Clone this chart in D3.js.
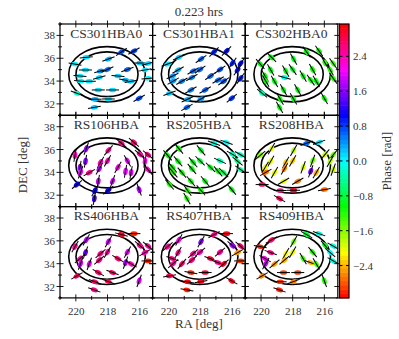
<!DOCTYPE html>
<html><head><meta charset="utf-8">
<script src="https://cdn.jsdelivr.net/npm/d3@7"></script>
<style>body{margin:0;background:#fff}svg{display:block}</style>
</head><body>
<script>
const chartTitle = "0.223 hrs";
const stations = ["CS301HBA0","CS301HBA1","CS302HBA0","RS106HBA","RS205HBA","RS208HBA","RS406HBA","RS407HBA","RS409HBA"];
const ra  = [217.12,216.33,219.34,217.94,220.05,215.95,215.44,219.39,218.44,218.0,216.74,215.63,219.74,219.70,219.15,218.52,217.34,216.86,216.51,215.44,218.58,217.68,219.93,218.79,217.95,216.0,218.83];
const dec = [36.55,36.63,36.08,35.93,35.49,35.58,35.54,34.97,34.88,35.01,35.01,34.97,34.44,34.0,33.98,34.31,34.44,34.09,33.98,34.24,33.22,33.22,32.93,32.41,32.43,32.49,31.70];

const phaseCS301HBA0 = [0.7,0.75,0.1,0.3,0.05,0.2,0.15,0.1,0.4,0.6,0.6,0.1,0.05,0.0,0.1,0.15,0.15,0.3,0.2,0.05,0.1,0.1,-0.2,0.3,0.1,0.7,0.2];
const phaseCS301HBA1 = [0.9,1.0,0.2,0.6,0.1,0.9,1.0,0.3,0.6,0.6,0.7,1.0,0.4,0.4,0.5,0.5,0.6,0.6,0.7,0.9,0.5,0.6,0.2,0.3,0.4,0.8,0.6];
const phaseCS302HBA0 = [-1.0,-1.1,-1.0,-0.9,-1.0,-1.2,-1.3,-1.0,-1.0,-0.9,-1.1,-1.2,-1.0,-1.1,-1.0,-0.1,-1.0,-1.1,-1.0,-1.2,-1.0,-1.0,-0.3,-1.1,-1.0,-1.1,-1.0];
const phaseRS106HBA  = [2.6,2.7,1.7,2.5,2.4,2.5,2.6,1.6,2.4,2.4,2.0,2.2,1.7,2.0,2.6,1.8,2.2,2.0,2.0,2.3,1.9,1.9,1.1,1.1,1.1,1.8,1.3];
const phaseRS205HBA  = [-0.1,0.0,-1.1,-0.9,-1.1,-0.3,-0.2,-1.0,-1.0,-0.8,-0.3,-0.5,-1.1,-1.2,-1.1,-1.0,-0.9,-1.0,-0.7,-0.4,-1.1,-1.0,-1.2,-1.2,-1.1,-1.0,-1.2];
const phaseRS208HBA  = [0.6,0.1,-2.0,-1.8,-1.6,-1.9,-1.5,-2.0,-2.3,-2.3,-1.5,-1.8,-2.0,-2.7,-2.0,-2.6,-1.9,1.5,-2.4,-1.9,-2.0,-2.6,2.8,2.6,3.0,-2.7,2.8];
const phaseRS406HBA  = [3.0,-3.0,1.8,1.9,2.5,2.6,2.5,1.5,2.6,2.5,2.0,2.4,2.4,1.9,2.0,2.6,2.7,1.8,2.4,-3.0,2.7,2.7,2.8,2.7,2.8,2.0,2.6];
const phaseRS407HBA  = [2.6,3.05,2.2,1.6,2.5,1.7,2.7,2.6,2.5,2.4,2.5,-2.5,2.6,2.5,2.7,2.6,2.9,2.6,3.0,-2.9,-3.0,2.9,2.8,3.1,3.0,3.0,-3.0];
const phaseRS409HBA  = [-0.8,-0.1,2.7,-1.5,-3.0,-0.9,-0.1,2.6,-2.1,-2.0,-1.2,0.0,2.2,1.8,-2.5,-2.4,-1.3,-2.4,-1.3,-0.1,-2.9,-2.9,-2.6,-2.9,-2.6,-1.2,-3.0];

const angleCS301HBA0 = [35,30,5,20,-10,0,15,0,15,25,20,10,-5,-5,0,15,-5,-10,10,5,0,0,-20,0,0,30,10];
const angleCS301HBA1 = [45,45,25,35,20,55,55,30,30,35,35,55,25,30,30,30,35,30,35,55,30,30,20,25,30,40,30];
const angleCS302HBA0 = [-55,-55,-45,-60,-50,-60,-55,-60,-60,-55,-60,-60,-60,-60,-60,-15,-60,-55,-60,-55,-60,-60,-40,-60,-60,-60,-60];
const angleRS106HBA  = [-40,-40,70,50,80,-40,-40,80,60,60,-60,80,80,70,30,60,60,80,80,-50,80,70,40,60,40,-70,80];
const angleRS205HBA  = [-20,-20,-50,-50,-50,-30,-30,-50,-50,-45,-25,-40,-50,-50,-50,-50,-45,-50,-45,-35,-50,-50,-50,-55,-50,-50,-60];
const angleRS208HBA  = [20,20,60,60,40,50,50,60,60,60,70,60,60,30,60,60,70,70,60,70,30,30,0,0,0,10,-30];
const angleRS406HBA  = [-15,0,60,60,60,-40,-40,70,40,60,60,30,40,70,70,40,-30,70,-30,0,-30,-20,30,-20,-20,70,-20];
const angleRS407HBA  = [30,0,60,60,40,-40,-40,60,40,40,40,30,-20,40,50,40,-20,-20,40,0,-10,0,10,-10,10,-30,-10];
const angleRS409HBA  = [-30,-20,30,60,-10,-50,-30,-20,60,60,-50,-40,-30,60,40,40,-60,-20,-60,-30,0,0,30,0,20,-70,-20];

const phases = [phaseCS301HBA0,phaseCS301HBA1,phaseCS302HBA0,phaseRS106HBA,phaseRS205HBA,phaseRS208HBA,phaseRS406HBA,phaseRS407HBA,phaseRS409HBA];
const angles = [angleCS301HBA0,angleCS301HBA1,angleCS302HBA0,angleRS106HBA,angleRS205HBA,angleRS208HBA,angleRS406HBA,angleRS407HBA,angleRS409HBA];

const xTicks = [220,218,216];
const xMinor = [221,219,217,215];
const yTicks = [32,34,36,38];
const yMinor = [31,33,35,37,39];
const cbTicks = [-2.4,-1.6,-0.8,0.0,0.8,1.6,2.4];
const circleCenter = [218.03,34.6];
const circleRadii = [2.42,1.96];

const FONT = "'Liberation Serif','Times New Roman','DejaVu Serif',serif";
const TXT = "#333";
const W=399,H=339, x0=60, y0=24, pw=92.6, ph=91.3;
const svg = d3.select("body").append("svg").attr("width",W).attr("height",H);
const hue = v => d3.hsl(((v+Math.PI)/(2*Math.PI))*360 % 360, 1, 0.5).toString();

const x = d3.scaleLinear().domain([221,215.15]).range([0,pw]);
const y = d3.scaleLinear().domain([31,39]).range([ph,0]);

svg.append("defs").append("clipPath").attr("id","pclip")
  .append("rect").attr("width",pw).attr("height",ph);

function styleText(sel,size){
  sel.style("font-family",FONT).style("font-size",size+"px").style("font-weight","normal").style("fill",TXT);
}

stations.forEach((name,i)=>{
  const col=i%3, row=Math.floor(i/3);
  const g = svg.append("g").attr("transform",`translate(${x0+col*pw},${y0+row*ph})`);
  const c = g.append("g").attr("clip-path","url(#pclip)");
  circleRadii.forEach(r=>{
    c.append("ellipse").attr("cx",x(circleCenter[0])).attr("cy",y(circleCenter[1]))
      .attr("rx",Math.abs(x(circleCenter[0]+r)-x(circleCenter[0])))
      .attr("ry",Math.abs(y(circleCenter[1]+r)-y(circleCenter[1])))
      .attr("fill","none").attr("stroke","#000").attr("stroke-width",1.6);
  });
  const pts = c.selectAll("g.pt").data(ra.map((d,j)=>({ra:d,dec:dec[j],ph:phases[i][j],an:angles[i][j]})))
    .enter().append("g").attr("class","pt")
    .attr("transform",d=>`translate(${x(d.ra)},${y(d.dec)}) rotate(${-d.an})`);
  pts.append("ellipse").attr("rx",3.6).attr("ry",2.3).attr("fill",d=>hue(d.ph));
  pts.append("line").attr("x1",-6.5).attr("x2",6.5).attr("stroke","#000").attr("stroke-width",1);

  styleText(g.append("text").attr("x",pw/2).attr("y",13.5).attr("text-anchor","middle").text(name),13.5);

  const tk = g.append("g").attr("stroke","#000").attr("stroke-width",0.9);
  const draw = (vals,len)=>{
    vals.forEach(v=>{
      const px=x(v);
      if(px>=0&&px<=pw){
        tk.append("line").attr("x1",px).attr("x2",px).attr("y1",ph-len).attr("y2",ph+len);
        tk.append("line").attr("x1",px).attr("x2",px).attr("y1",-len).attr("y2",len);
      }
    });
  };
  draw(xTicks,3.5); draw(xMinor,2);
  const drawY = (vals,len)=>{
    vals.forEach(v=>{
      const py=y(v);
      if(py>=0&&py<=ph){
        tk.append("line").attr("y1",py).attr("y2",py).attr("x1",-len).attr("x2",len);
        tk.append("line").attr("y1",py).attr("y2",py).attr("x1",pw-len).attr("x2",pw+len);
      }
    });
  };
  drawY(yTicks,3.5); drawY(yMinor,2);

  g.append("rect").attr("width",pw).attr("height",ph).attr("fill","none")
    .attr("stroke","#000").attr("stroke-width",1.2);

  if(row===2){
    const ax = g.append("g").attr("transform",`translate(0,${ph})`)
      .call(d3.axisBottom(x).tickValues(xTicks).tickSize(0).tickPadding(9).tickFormat(d3.format("d")));
    ax.select(".domain").remove();
    styleText(ax.selectAll("text"),11);
  }
  if(col===0){
    const ay = g.append("g")
      .call(d3.axisLeft(y).tickValues(yTicks).tickSize(0).tickPadding(5).tickFormat(d3.format("d")));
    ay.select(".domain").remove();
    styleText(ay.selectAll("text"),11);
  }
});

// colorbar
const cbx=339.5, cbw=9.5, cby=y0, cbh=ph*3;
const cs = d3.scaleLinear().domain([-Math.PI,Math.PI]).range([cby+cbh,cby]);
const nb=64;
const cb = svg.append("g");
d3.range(nb).forEach(k=>{
  const v0=-Math.PI+k*2*Math.PI/nb, v1=v0+2*Math.PI/nb;
  cb.append("rect").attr("x",cbx).attr("width",cbw).attr("y",cs(v1)).attr("height",cs(v0)-cs(v1)+0.5)
    .attr("fill",hue((v0+v1)/2));
});
cb.append("rect").attr("x",cbx).attr("y",cby).attr("width",cbw).attr("height",cbh)
  .attr("fill","none").attr("stroke","#000").attr("stroke-width",1.2);
cbTicks.forEach(t=>{
  cb.append("line").attr("x1",cbx).attr("x2",cbx+3).attr("y1",cs(t)).attr("y2",cs(t)).attr("stroke","#000");
  cb.append("line").attr("x1",cbx+cbw-3).attr("x2",cbx+cbw).attr("y1",cs(t)).attr("y2",cs(t)).attr("stroke","#000");
});
const cax = svg.append("g").attr("transform",`translate(${cbx+cbw},0)`)
  .call(d3.axisRight(cs).tickValues(cbTicks).tickSize(0).tickPadding(4).tickFormat(d3.format(".1f")));
cax.select(".domain").remove();
styleText(cax.selectAll("text"),11);

styleText(svg.append("text").attr("x",x0+pw*1.5).attr("y",16).attr("text-anchor","middle").text(chartTitle),13);
styleText(svg.append("text").attr("x",x0+pw*1.5).attr("y",328).attr("text-anchor","middle").text("RA [deg]"),13);
styleText(svg.append("text").attr("transform","translate(27,165) rotate(-90)").attr("text-anchor","middle").text("DEC [deg]"),13);
styleText(svg.append("text").attr("transform","translate(391,161) rotate(-90)").attr("text-anchor","middle").text("Phase [rad]"),13);
</script>
</body></html>
